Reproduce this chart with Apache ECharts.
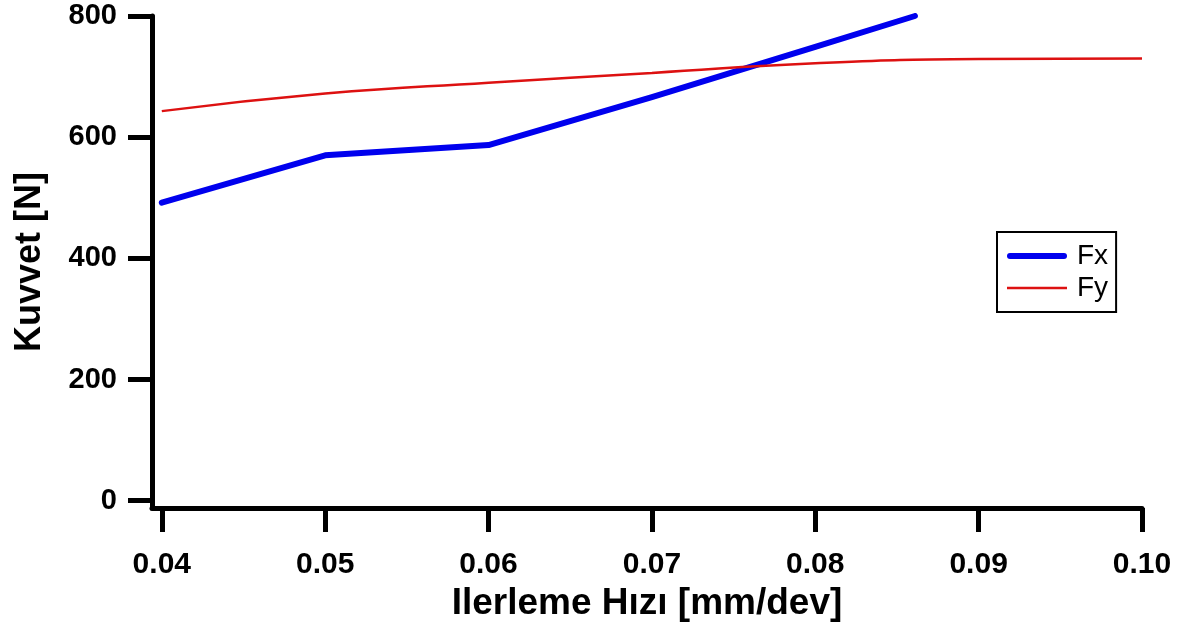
<!DOCTYPE html>
<html lang="tr">
<head>
    <meta charset="UTF-8">
    <title>Kuvvet - Ilerleme Hızı</title>
    <script src="https://cdn.jsdelivr.net/npm/echarts@6/dist/echarts.min.js"></script>
    <style>
        html, body { margin: 0; padding: 0; background: #fff; }
        #chart { width: 1180px; height: 625px; }
    </style>
</head>
<body>
    <div id="chart"></div>
    <script>
        // veriler
        var fxFeed = [0.04, 0.05, 0.06, 0.07, 0.08, 0.0861];
        var fxForce = [492, 570, 587, 666, 749, 800];
        var fyFeed = [0.04, 0.05, 0.06, 0.07, 0.08, 0.09, 0.10];
        var fyForce = [643, 672, 690, 706, 722, 729, 730];
        var xTicks = [0.04, 0.05, 0.06, 0.07, 0.08, 0.09, 0.10];
        var yTicks = [0, 200, 400, 600, 800];

        function pairs(xs, ys) {
            return xs.map(function (x, i) { return [x, ys[i]]; });
        }

        var myChart = echarts.init(document.getElementById('chart'));
        var font = '"Liberation Sans", Arial, sans-serif';

        // legend simgeleri: kalın ve ince çizgi
        var thickIcon = 'path://M3,0 L57,0 A3,3 0 0 1 57,6 L3,6 A3,3 0 0 1 3,0 Z';
        var thinIcon = 'path://M0,0 L60,0 L60,2.5 L0,2.5 Z';

        var option = {
            animation: false,
            backgroundColor: '#fff',
            grid: {
                left: 152,
                right: 38,
                top: 16,
                bottom: 117,
                containLabel: false,
                outerBoundsMode: 'none'
            },
            legend: {
                left: 997,
                top: 232,
                orient: 'vertical',
                itemWidth: 60,
                itemHeight: 14,
                itemGap: 4,
                padding: [10, 8, 10, 10],
                borderColor: '#000',
                borderWidth: 2,
                borderRadius: 0,
                textStyle: { fontFamily: font, fontSize: 28, color: '#000', padding: [0, 0, 0, 5] },
                data: [{ name: 'Fx', icon: thickIcon }, { name: 'Fy', icon: thinIcon }]
            },
            xAxis: {
                type: 'value',
                min: 0.0394,
                max: 0.10,
                name: 'Ilerleme Hızı [mm/dev]',
                nameLocation: 'middle',
                nameGap: 69,
                nameTextStyle: { fontFamily: font, fontSize: 37, fontWeight: 'bold', color: '#000' },
                splitLine: { show: false },
                axisLine: { onZero: false, lineStyle: { color: '#000', width: 5 } },
                axisTick: { customValues: xTicks, length: 24, lineStyle: { color: '#000', width: 5 } },
                axisLabel: {
                    customValues: xTicks,
                    margin: 42,
                    fontFamily: font,
                    fontSize: 30,
                    fontWeight: 'bold',
                    color: '#000',
                    formatter: function (v) { return v.toFixed(2); }
                }
            },
            yAxis: {
                type: 'value',
                min: -12,
                max: 800,
                name: 'Kuvvet [N]',
                nameLocation: 'middle',
                nameGap: 104,
                nameTextStyle: { fontFamily: font, fontSize: 36, fontWeight: 'bold', color: '#000' },
                splitLine: { show: false },
                axisLine: { show: true, onZero: false, lineStyle: { color: '#000', width: 5 } },
                axisTick: { show: true, customValues: yTicks, length: 24, lineStyle: { color: '#000', width: 5 } },
                axisLabel: {
                    customValues: yTicks,
                    margin: 35,
                    fontFamily: font,
                    fontSize: 29,
                    fontWeight: 'bold',
                    color: '#000'
                }
            },
            series: [{
                name: 'Fx',
                type: 'line',
                data: pairs(fxFeed, fxForce),
                showSymbol: false,
                symbol: 'none',
                color: '#0000ee',
                lineStyle: { color: '#0000ee', width: 6, cap: 'round', join: 'round' }
            }, {
                name: 'Fy',
                type: 'line',
                smooth: 0.5,
                data: pairs(fyFeed, fyForce),
                showSymbol: false,
                symbol: 'none',
                color: '#dd1111',
                lineStyle: { color: '#dd1111', width: 2.5 }
            }]
        };

        myChart.setOption(option);
    </script>
</body>
</html>
